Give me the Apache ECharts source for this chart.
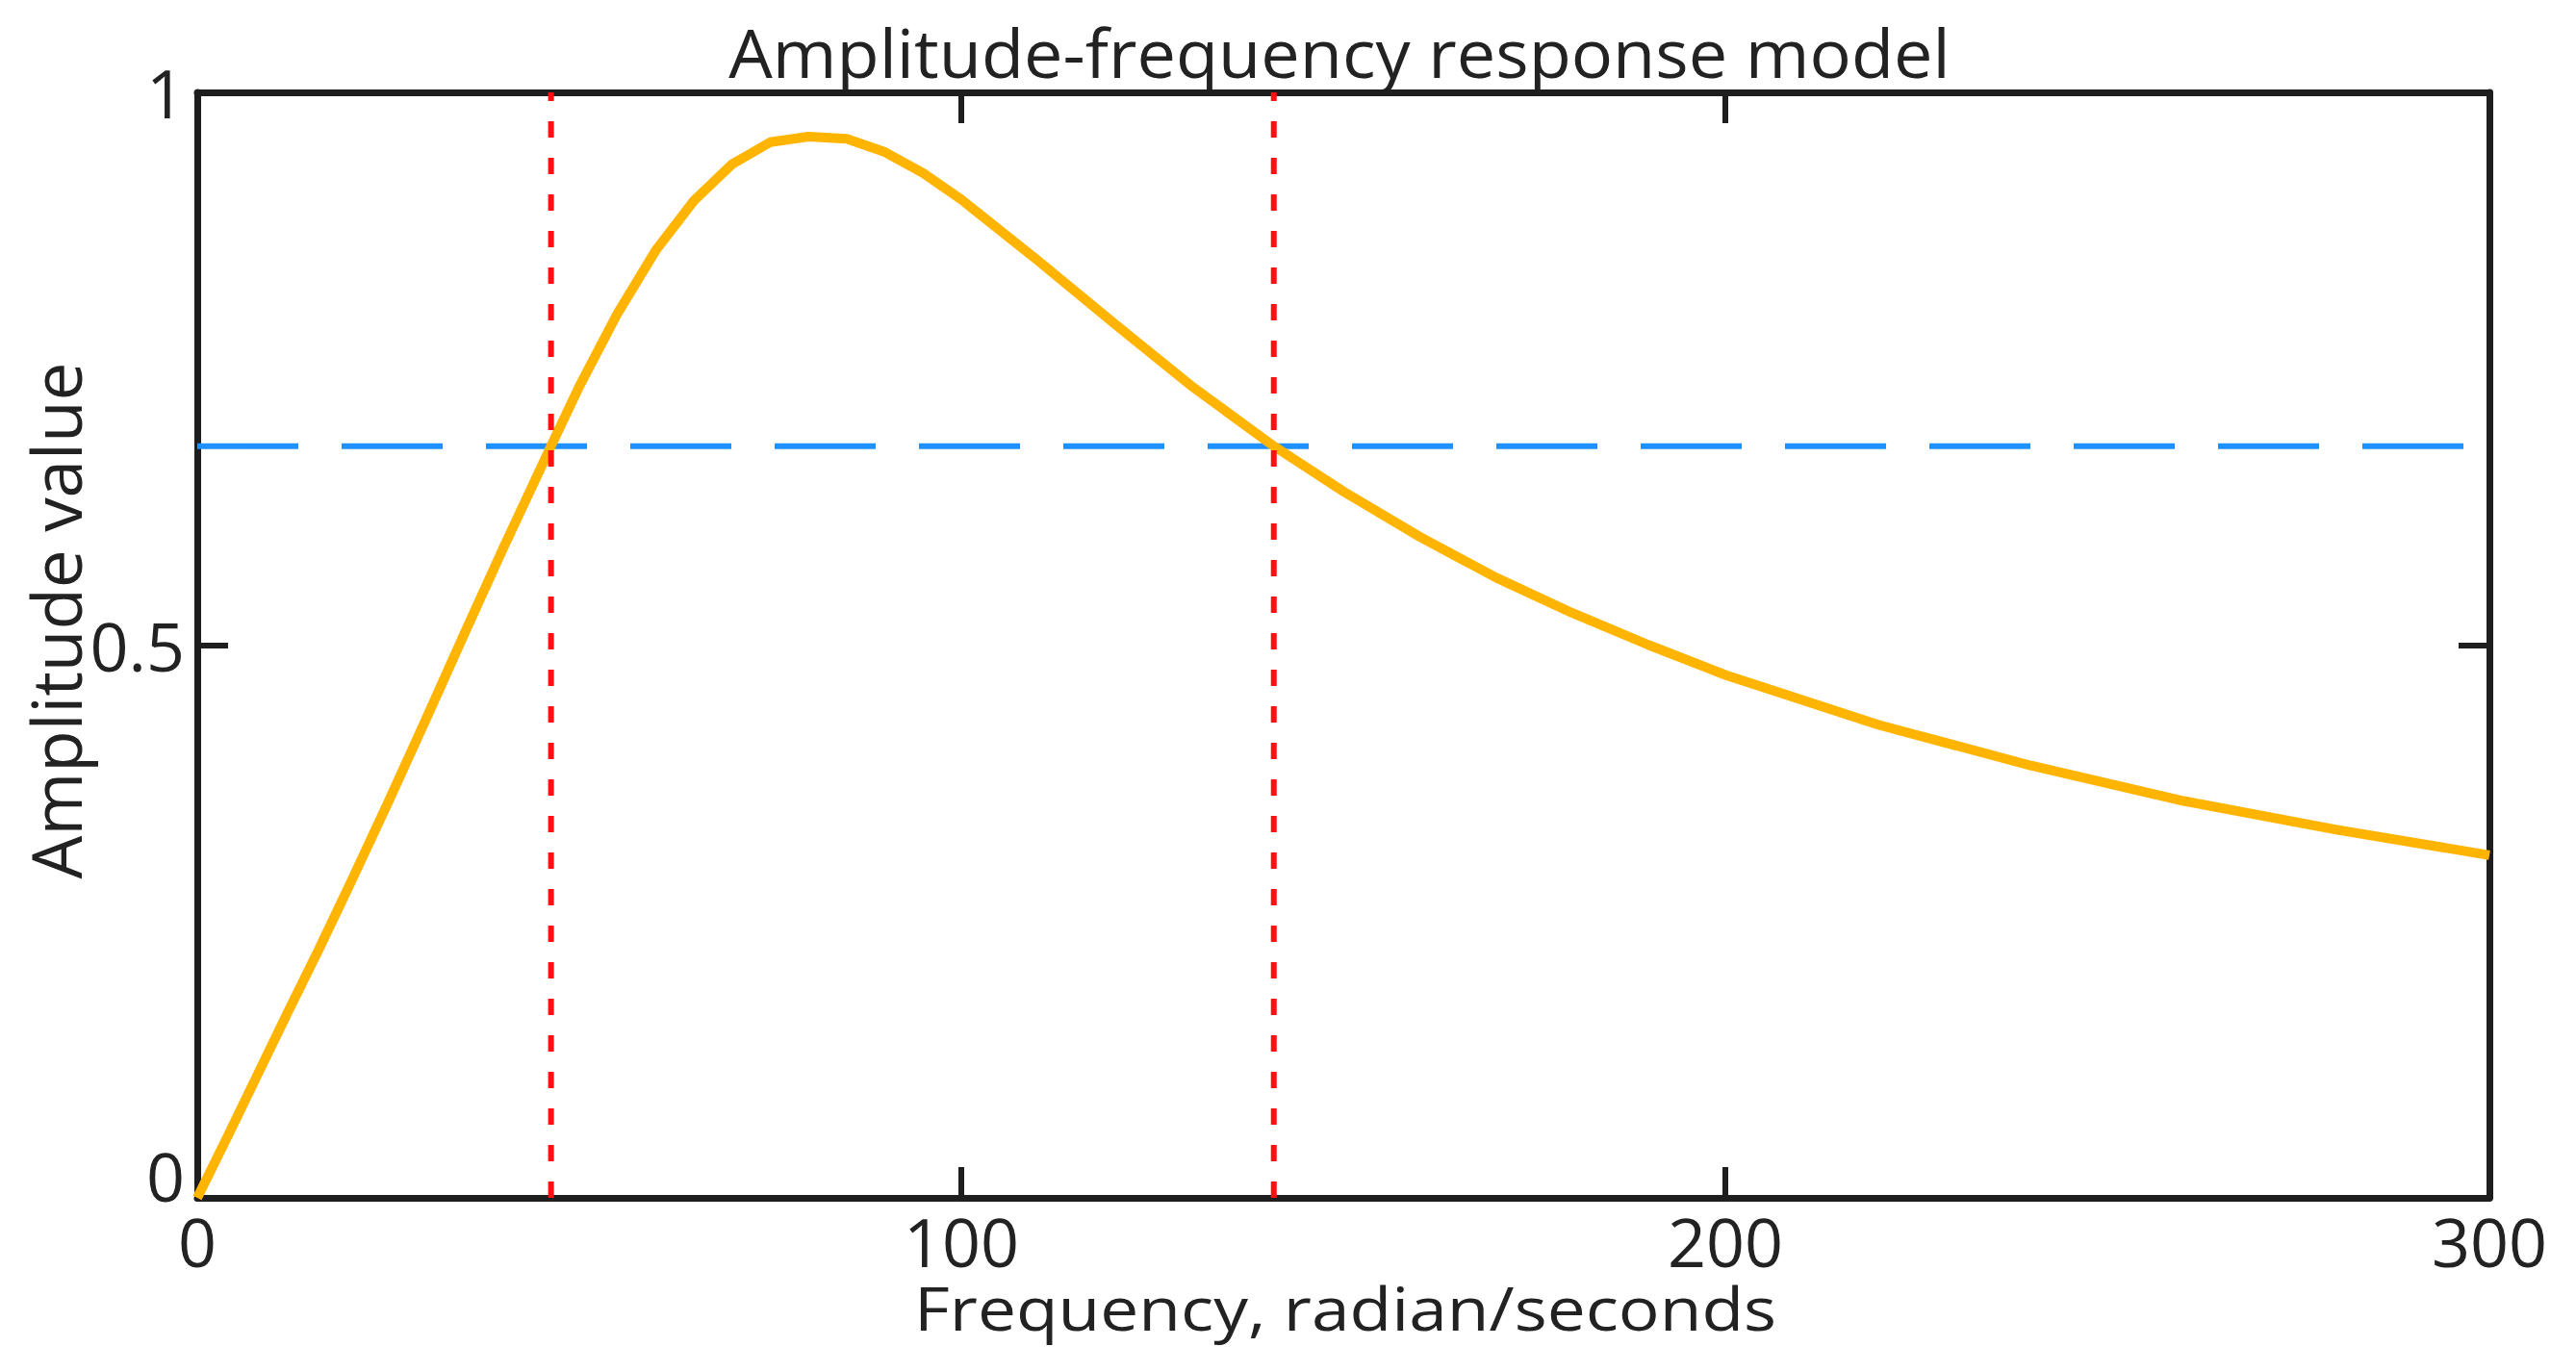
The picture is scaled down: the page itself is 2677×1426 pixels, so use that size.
<!DOCTYPE html>
<html>
<head>
<meta charset="utf-8">
<script src="https://cdn.jsdelivr.net/npm/echarts@6.0.0/dist/echarts.min.js"></script>
<style>
html,body{margin:0;padding:0;background:#ffffff;}
#chart{width:2677px;height:1426px;}
</style>
</head>
<body>
<div id="chart"></div>
<script>
// ---- data ----
const frequency = [0, 4, 8, 12, 16, 20, 25, 30, 35, 40, 46.3, 50, 55, 60, 65, 70, 75, 80, 85, 90, 95, 100,
  110, 120, 130, 140.9, 150, 160, 170, 180, 190, 200, 220, 240, 260, 280, 300];
const amplitude = [0, 0.056, 0.113, 0.170, 0.226, 0.284, 0.358, 0.434, 0.511, 0.587, 0.680, 0.734, 0.800, 0.857, 0.902, 0.935, 0.955, 0.960, 0.958, 0.946, 0.927, 0.903,
  0.848, 0.791, 0.735, 0.680, 0.639, 0.598, 0.561, 0.529, 0.500, 0.473, 0.428, 0.391, 0.359, 0.333, 0.310];
const halfPowerLevel = 0.68;
const cutoffFrequencies = [46.3, 140.9];
const xTickLabels = ['0', '100', '200', '300'];
const yTickLabels = ['0', '0.5', '1'];
const titleText = 'Amplitude-frequency response model';
const xAxisName = 'Frequency, radian/seconds';
const yAxisName = 'Amplitude value';

// ---- chart ----
const FONT = '"Open Sans", "Liberation Sans", sans-serif';
const AXIS_COLOR = '#1e1e1e';
const TEXT_COLOR = '#222222';

const chart = echarts.init(document.getElementById('chart'), null, {renderer: 'svg'});

const curveData = frequency.map((f, i) => [f, amplitude[i]]);
const levelData = [[0, halfPowerLevel], [300, halfPowerLevel]];

function axisCommon(extra) {
  return Object.assign({
    type: 'value',
    axisLine: {show: true, onZero: false, lineStyle: {color: AXIS_COLOR, width: 7}},
    axisTick: {show: true, inside: true, length: 32, lineStyle: {color: AXIS_COLOR, width: 6}},
    splitLine: {show: false}
  }, extra);
}

const series = [
  {
    type: 'line', xAxisIndex: 0, yAxisIndex: 0, data: levelData, symbol: 'none', silent: true,
    lineStyle: {color: '#1E90FF', width: 6, type: [105, 45]}, z: 2
  },
  {
    type: 'line', xAxisIndex: 0, yAxisIndex: 0, data: curveData, symbol: 'none', silent: true,
    lineStyle: {color: '#FFB400', width: 10, join: 'round'}, z: 3
  }
];
cutoffFrequencies.forEach(f => {
  series.push({
    type: 'line', xAxisIndex: 0, yAxisIndex: 0, data: [[f, 0], [f, 1]], symbol: 'none', silent: true,
    lineStyle: {color: '#FF1010', width: 6, type: [17, 21]}, z: 4
  });
});

chart.setOption({
  animation: false,
  backgroundColor: '#ffffff',
  grid: {left: 205, right: 90, top: 96, bottom: 181, containLabel: false},
  xAxis: [
    axisCommon({
      position: 'bottom', min: 0, max: 300, interval: 100,
      axisLabel: {
        show: true, margin: 10, color: TEXT_COLOR, fontSize: 70, fontFamily: FONT,
        formatter: v => xTickLabels[Math.round(v / 100)]
      }
    }),
    axisCommon({
      position: 'top', min: 0, max: 300, interval: 100,
      axisLabel: {show: false}
    })
  ],
  yAxis: [
    axisCommon({
      position: 'left', min: 0, max: 1, interval: 0.5,
      axisLabel: {
        show: true, margin: 13, color: TEXT_COLOR, fontSize: 70, fontFamily: FONT,
        formatter: v => {
          const s = yTickLabels[Math.round(v / 0.5)];
          return v === 0 ? '{z|' + s + '}' : s;
        },
        rich: {z: {fontSize: 70, fontFamily: FONT, color: TEXT_COLOR, padding: [0, 0, 46, 0]}}
      }
    }),
    axisCommon({
      position: 'right', min: 0, max: 1, interval: 0.5,
      axisLabel: {show: false}
    })
  ],
  graphic: [
    {
      type: 'text', x: 1392, y: 19, scaleX: 1.03, silent: true,
      style: {text: titleText, fontSize: 70, fontFamily: FONT, fill: TEXT_COLOR, align: 'center', verticalAlign: 'top'}
    },
    {
      type: 'text', x: 1398, y: 1328, scaleX: 1.15, silent: true,
      style: {text: xAxisName, fontSize: 62, fontFamily: FONT, fill: TEXT_COLOR, align: 'center', verticalAlign: 'top'}
    },
    {
      type: 'text', x: 57, y: 645, rotation: Math.PI / 2, silent: true,
      style: {text: yAxisName, fontSize: 71, fontFamily: FONT, fill: TEXT_COLOR, align: 'center', verticalAlign: 'middle'}
    }
  ],
  series: series
});
</script>
</body>
</html>
